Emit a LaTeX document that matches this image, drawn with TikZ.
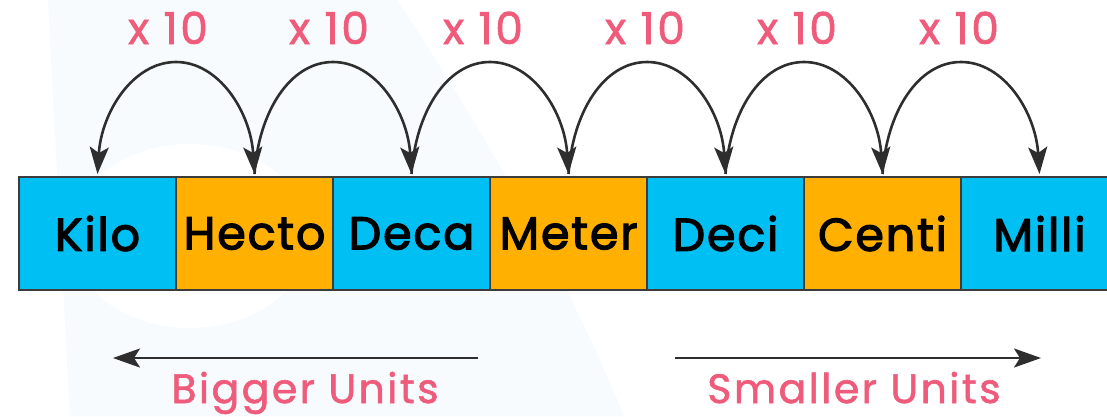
\documentclass[tikz,border=0pt]{standalone}
\usepackage{fontspec}
\setmainfont{Poppins}
\newfontfamily\labelfont{Poppins}[LetterSpace=6, FakeBold=1.4]
\newfontfamily\unitfont{Poppins}[LetterSpace=4, FakeBold=2.6]
\usetikzlibrary{arrows.meta, calc}

\definecolor{unitblue}{HTML}{00BFF2}
\definecolor{unitorange}{HTML}{FFB000}
\definecolor{factorpink}{HTML}{EF5B7B}
\definecolor{inkgray}{HTML}{2E2E2E}
\definecolor{edgegray}{HTML}{3C3C3C}
\definecolor{haze}{HTML}{F7FBFE}

\tikzset{
  unitbox/.style={draw=edgegray, line width=2pt, minimum width=157pt,
    minimum height=113pt, inner sep=0pt, text=black,
    font=\unitfont\fontsize{46}{50}\selectfont},
  bluebox/.style={unitbox, fill=unitblue},
  orangebox/.style={unitbox, fill=unitorange},
  factor/.style={text=factorpink, anchor=base, inner sep=0pt,
    font=\labelfont\fontsize{44}{46}\selectfont},
  direction/.style={text=factorpink, anchor=base, inner sep=0pt,
    font=\labelfont\fontsize{41}{44}\selectfont},
  tip/.tip={Stealth[length=27pt, width=19pt, inset=6pt]},
  jump/.style={draw=inkgray, line width=2.6pt, -tip},
  bothjump/.style={draw=inkgray, line width=2.6pt, tip-tip},
  flow/.style={draw=inkgray, line width=2.6pt, -tip}
}

% half-ellipse hop between two neighbouring box tops (left end first)
\newcommand{\hop}[3][jump]{%
  \coordinate (mid) at ($(#2)!0.5!(#3)+(0,-112)$);
  \draw[#1] (#2) .. controls +(4,-62) and +(-43,0) .. (mid)
             .. controls +(43,0) and +(-4,-62) .. (#3);}

\begin{document}
\begin{tikzpicture}[x=1pt, y=-1pt]
\useasboundingbox (0,0) rectangle (1107,416);
\fill[white] (0,0) rectangle (1107,416);

% faint backdrop shape
\fill[haze] (48,0) -- (397,0) .. controls (470,110) and (560,260) .. (624,416)
  -- (70,416) -- cycle;
\fill[white] (190,236) ellipse [x radius=120, y radius=92];

% the row of units
\node[bluebox]   (kilo)  at (97.5,233.5)  {Kilo};
\node[orangebox] (hecto) at (254.5,233.5) {Hecto};
\node[bluebox]   (deca)  at (411.5,233.5) {Deca};
\node[orangebox] (meter) at (568.5,233.5) {Meter};
\node[bluebox]   (deci)  at (725.5,233.5) {Deci};
\node[orangebox] (centi) at (882.5,233.5) {Centi};
\node[bluebox]   (milli) at (1039.5,233.5){Milli};

% arc end points just above each box
\foreach \n in {kilo,hecto,deca,meter,deci,centi,milli}
  \coordinate (\n-top) at ([yshift=2pt]\n.north);

% hops between neighbouring units
\hop[bothjump]{kilo-top}{hecto-top}
\hop{hecto-top}{deca-top}
\hop{deca-top}{meter-top}
\hop{meter-top}{deci-top}
\hop{deci-top}{centi-top}
\hop{centi-top}{milli-top}

% factor labels
\node[factor] (f1) at (168,44) {x 10};
\node[factor] (f2) at (329,44) {x 10};
\node[factor] (f3) at (483,44) {x 10};
\node[factor] (f4) at (645,44) {x 10};
\node[factor] (f5) at (797,44) {x 10};
\node[factor] (f6) at (959,44) {x 10};

% direction arrows
\coordinate (bigfrom) at (478,358);
\coordinate (bigto)   at (113,358);
\coordinate (smallfrom) at (675,358);
\coordinate (smallto)   at (1041,358);
\draw[flow] (bigfrom) -- (bigto);
\draw[flow] (smallfrom) -- (smallto);
\node[direction] (bigger)  at (305,403) {Bigger Units};
\node[direction] (smaller) at (854,403) {Smaller Units};
\end{tikzpicture}
\end{document}
